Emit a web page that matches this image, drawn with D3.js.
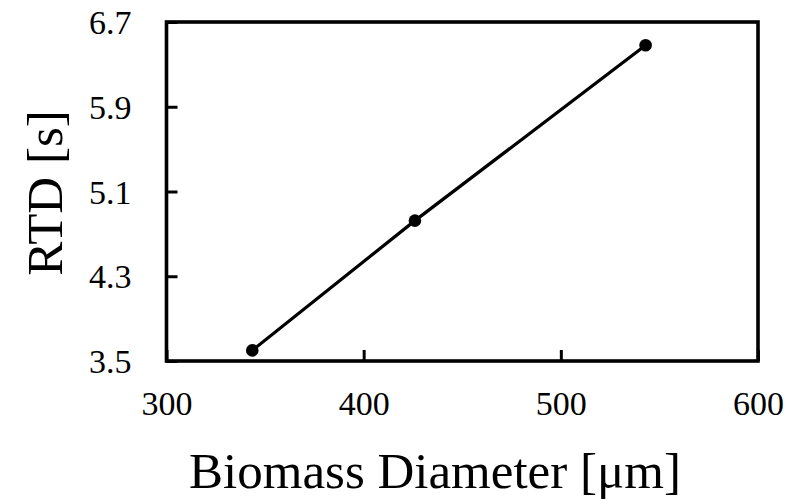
<!DOCTYPE html>
<html>
<head>
<meta charset="utf-8">
<script src="https://cdn.jsdelivr.net/npm/d3@7"></script>
<style>
  html, body { margin: 0; padding: 0; background: #fff; }
  svg { display: block; }
  text { font-family: "Liberation Serif", "Times New Roman", serif; fill: #000; }
</style>
</head>
<body>
<svg id="chart" width="792" height="500"></svg>
<script>
// Residence time vs. biomass particle diameter
const diameters = [343.5, 426, 543];
const rtdValues = [3.6, 4.825, 6.48];
const xTicks = [300, 400, 500, 600];
const yTicks = [3.5, 4.3, 5.1, 5.9, 6.7];
const xTitle = "Biomass Diameter [μm]";
const yTitle = "RTD [s]";

const svg = d3.select("#chart");
const plot = { left: 166.5, right: 758, top: 22, bottom: 361 };

const x = d3.scaleLinear().domain([300, 600]).range([plot.left, plot.right]);
const y = d3.scaleLinear().domain([3.5, 6.7]).range([plot.bottom, plot.top]);

// Bottom axis: inward ticks
const xAxis = svg.append("g")
  .attr("transform", `translate(0,${plot.bottom})`)
  .call(d3.axisBottom(x).tickValues(xTicks).tickSize(-11).tickPadding(0).tickFormat(d3.format("d")));
xAxis.select(".domain").remove();
xAxis.selectAll(".tick line").attr("stroke", "#000").attr("stroke-width", 3);
xAxis.selectAll(".tick text")
  .attr("y", 54).attr("dy", 0)
  .style("font-size", "34px");

// Left axis: inward ticks
const yAxis = svg.append("g")
  .attr("transform", `translate(${plot.left},0)`)
  .call(d3.axisLeft(y).tickValues(yTicks).tickSize(-11).tickPadding(0).tickFormat(d3.format(".1f")));
yAxis.select(".domain").remove();
yAxis.selectAll(".tick line").attr("stroke", "#000").attr("stroke-width", 3);
yAxis.selectAll(".tick text")
  .attr("x", -35).attr("dy", "0.34em")
  .style("font-size", "34px");

// Frame around the plot area
svg.append("rect")
  .attr("x", plot.left).attr("y", plot.top)
  .attr("width", plot.right - plot.left).attr("height", plot.bottom - plot.top)
  .attr("fill", "none").attr("stroke", "#000").attr("stroke-width", 3.6);

// Series line and markers
const pts = diameters.map((d, i) => [d, rtdValues[i]]);
svg.append("path")
  .datum(pts)
  .attr("fill", "none").attr("stroke", "#000").attr("stroke-width", 3.2)
  .attr("d", d3.line().x(d => x(d[0])).y(d => y(d[1])));

svg.selectAll("circle.pt")
  .data(pts).enter().append("circle")
  .attr("class", "pt")
  .attr("cx", d => x(d[0])).attr("cy", d => y(d[1]))
  .attr("r", 6.3).attr("fill", "#000");

// Axis titles
svg.append("text")
  .attr("x", 435).attr("y", 488)
  .attr("text-anchor", "middle")
  .style("font-size", "51px")
  .text(xTitle);

svg.append("text")
  .attr("transform", "translate(62,193) rotate(-90)")
  .attr("text-anchor", "middle")
  .style("font-size", "51px")
  .text(yTitle);
</script>
</body>
</html>
